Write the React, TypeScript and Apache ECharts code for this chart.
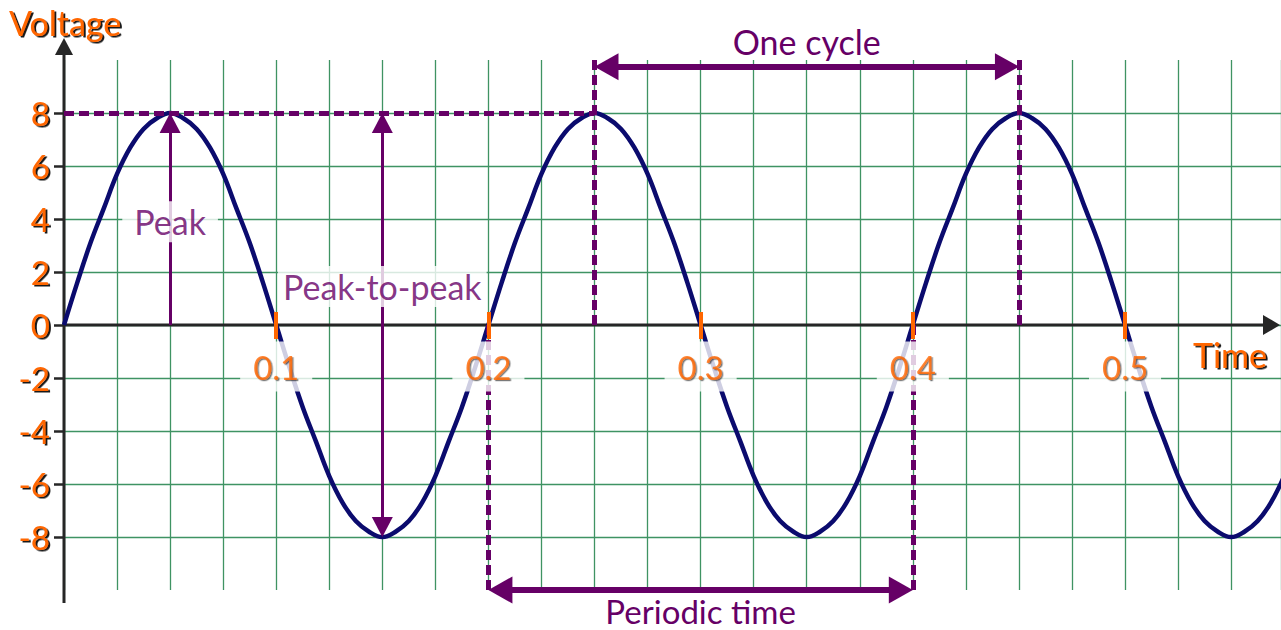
import React, { useEffect, useRef } from "react";
import * as echarts from "echarts";

// ---- data ----
const TIMES = [
  0, 0.00625, 0.0125, 0.01875, 0.025, 0.03125, 0.0375, 0.04375,
  0.05, 0.05625, 0.0625, 0.06875, 0.075, 0.08125, 0.0875, 0.09375,
  0.1, 0.10625, 0.1125, 0.11875, 0.125, 0.13125, 0.1375, 0.14375,
  0.15, 0.15625, 0.1625, 0.16875, 0.175, 0.18125, 0.1875, 0.19375,
  0.2, 0.20625, 0.2125, 0.21875, 0.225, 0.23125, 0.2375, 0.24375,
  0.25, 0.25625, 0.2625, 0.26875, 0.275, 0.28125, 0.2875, 0.29375,
  0.3, 0.30625, 0.3125, 0.31875, 0.325, 0.33125, 0.3375, 0.34375,
  0.35, 0.35625, 0.3625, 0.36875, 0.375, 0.38125, 0.3875, 0.39375,
  0.4, 0.40625, 0.4125, 0.41875, 0.425, 0.43125, 0.4375, 0.44375,
  0.45, 0.45625, 0.4625, 0.46875, 0.475, 0.48125, 0.4875, 0.49375,
  0.5, 0.50625, 0.5125, 0.51875, 0.525, 0.53125, 0.5375, 0.54375,
  0.55, 0.55625, 0.5625, 0.56875, 0.575,
];
const VOLTAGES = [
  0, 1.6, 3.1, 4.4, 5.7, 6.7, 7.4, 7.8,
  8, 7.8, 7.4, 6.7, 5.7, 4.4, 3.1, 1.6,
  0, -1.6, -3.1, -4.4, -5.7, -6.7, -7.4, -7.8,
  -8, -7.8, -7.4, -6.7, -5.7, -4.4, -3.1, -1.6,
  0, 1.6, 3.1, 4.4, 5.7, 6.7, 7.4, 7.8,
  8, 7.8, 7.4, 6.7, 5.7, 4.4, 3.1, 1.6,
  0, -1.6, -3.1, -4.4, -5.7, -6.7, -7.4, -7.8,
  -8, -7.8, -7.4, -6.7, -5.7, -4.4, -3.1, -1.6,
  0, 1.6, 3.1, 4.4, 5.7, 6.7, 7.4, 7.8,
  8, 7.8, 7.4, 6.7, 5.7, 4.4, 3.1, 1.6,
  0, -1.6, -3.1, -4.4, -5.7, -6.7, -7.4, -7.8,
  -8, -7.8, -7.4, -6.7, -5.7,
];
const X_TICKS = [0.1, 0.2, 0.3, 0.4, 0.5];
const Y_TICKS = [-8, -6, -4, -2, 0, 2, 4, 6, 8];

const X_MIN = 0;
const X_MAX = 0.5735;
const Y_MIN = -10;
const Y_MAX = 10;
const GRID_STEP_X = 0.025;
const GRID_STEP_Y = 2;

// annotation values
const PEAK = 8;
const TROUGH = -8;
const PEAK_TIME = 0.05;
const P2P_TIME = 0.15;
const CYCLE = [0.25, 0.45];
const PERIOD = [0.2, 0.4];
const CYCLE_ARROW_V = 9.75;
const PERIOD_ARROW_V = -10;
const PEAK_LABEL_V = 3.9;
const P2P_LABEL_V = 1.45;

// ---- styles ----
const FONT = "Lato, 'Open Sans', 'DejaVu Sans', sans-serif";
const ORANGE = "#ff6600";
const PURPLE = "#660066";
const NAVY = "#0b0b6e";
const GRID_C = "#3f9363";
const AXIS_C = "#262626";

const shadowText = {
  textShadowColor: "rgba(0,0,0,0.9)",
  textShadowBlur: 1.5,
  textShadowOffsetX: 2,
  textShadowOffsetY: 1.5,
};

function buildSeries(kx: number, ky: number) {
  // kx, ky: pixels per data unit
  const dashed = { color: PURPLE, width: 5, type: [10, 5] as any, opacity: 1 };
  const thick = { color: PURPLE, width: 6, type: "solid" as const, opacity: 1 };
  const thin = { color: PURPLE, width: 3, type: "solid" as const, opacity: 1 };
  const BIG = [27, 24];
  const SMALL = [21, 20];
  const insX = (len: number) => len / 2 / kx;
  const insY = (len: number) => len / 2 / ky;
  const noLabel = { show: false };
  const tri = (size: number[]) => ({ symbol: "triangle", symbolSize: size });
  const none = { symbol: "none" };

  const lines: any[] = [
    // dashed guides
    [{ coord: [X_MIN, PEAK], lineStyle: dashed, label: noLabel, ...none }, { coord: [CYCLE[0], PEAK], ...none }],
    [{ coord: [CYCLE[0], Y_MAX], lineStyle: dashed, label: noLabel, ...none }, { coord: [CYCLE[0], 0], ...none }],
    [{ coord: [CYCLE[1], Y_MAX], lineStyle: dashed, label: noLabel, ...none }, { coord: [CYCLE[1], 0], ...none }],
    [{ coord: [PERIOD[0], 0], lineStyle: dashed, label: noLabel, ...none }, { coord: [PERIOD[0], Y_MIN], ...none }],
    [{ coord: [PERIOD[1], 0], lineStyle: dashed, label: noLabel, ...none }, { coord: [PERIOD[1], Y_MIN], ...none }],
    // Peak arrow
    [{ coord: [PEAK_TIME, 0], lineStyle: thin, label: noLabel, ...none }, { coord: [PEAK_TIME, PEAK - insY(SMALL[1])], ...tri(SMALL) }],
    // Peak-to-peak arrow
    [
      { coord: [P2P_TIME, PEAK - insY(SMALL[1])], lineStyle: thin, label: noLabel, ...tri(SMALL) },
      { coord: [P2P_TIME, TROUGH + insY(SMALL[1])], ...tri(SMALL) },
    ],
    // One cycle arrow
    [
      {
        coord: [CYCLE[0] + insX(BIG[1]), CYCLE_ARROW_V],
        lineStyle: thick,
        ...tri(BIG),
        label: {
          show: true,
          formatter: "One cycle",
          position: "insideMiddleTop",
          distance: 8,
          color: PURPLE,
          fontSize: 34,
          fontFamily: FONT,
        },
      },
      { coord: [CYCLE[1] - insX(BIG[1]), CYCLE_ARROW_V], ...tri(BIG) },
    ],
    // Periodic time arrow
    [
      {
        coord: [PERIOD[0] + insX(BIG[1]), PERIOD_ARROW_V],
        lineStyle: thick,
        ...tri(BIG),
        label: {
          show: true,
          formatter: "Periodic time",
          position: "insideMiddleBottom",
          distance: 7,
          color: PURPLE,
          fontSize: 33,
          lineHeight: 28,
          fontFamily: FONT,
        },
      },
      { coord: [PERIOD[1] - insX(BIG[1]), PERIOD_ARROW_V], ...tri(BIG) },
    ],
  ];

  return [
    {
      name: "Voltage",
      type: "line",
      data: TIMES.map((t, i) => [t, VOLTAGES[i]]),
      smooth: 0.4,
      showSymbol: false,
      symbol: "none",
      lineStyle: { color: NAVY, width: 4.5 },
      z: 2,
      silent: true,
    },
    {
      name: "guides",
      type: "line",
      data: [],
      silent: true,
      markLine: {
        silent: true,
        animation: false,
        z: 5,
        symbol: ["none", "none"],
        label: { show: false },
        emphasis: { disabled: true },
        data: lines,
      },
    },
    {
      name: "notes",
      type: "scatter",
      silent: true,
      z: 8,
      symbolSize: 1,
      itemStyle: { color: "rgba(0,0,0,0)" },
      label: {
        show: true,
        position: "inside",
        color: PURPLE,
        fontSize: 34,
        fontFamily: FONT,
        backgroundColor: "#ffffff",
      },
      data: [
        { value: [PEAK_TIME, PEAK_LABEL_V], label: { formatter: "Peak", padding: [4, 12, 3, 12] } },
        { value: [P2P_TIME, P2P_LABEL_V], label: { formatter: "Peak-to-peak", padding: [4, 5, 3, 5] } },
      ],
    },
    {
      name: "timeLabels",
      type: "scatter",
      silent: true,
      z: 10,
      symbolSize: 1,
      itemStyle: { color: "rgba(0,0,0,0)" },
      label: {
        show: true,
        position: "bottom",
        distance: 16,
        color: ORANGE,
        fontSize: 33,
        fontFamily: FONT,
        backgroundColor: "#ffffff",
        padding: [9, 13, 8, 13],
        textShadowColor: "rgba(0,0,0,0.65)",
        textShadowBlur: 1.5,
        textShadowOffsetX: 1.4,
        textShadowOffsetY: 1.2,
        formatter: (p: any) => Number(p.value[0]).toFixed(1),
      },
      data: X_TICKS.map((t) => [t, 0]),
    },
  ];
}

function baseOption(): any {
  const xCommon = {
    type: "value",
    min: X_MIN,
    max: X_MAX,
    position: "bottom",
    splitLine: { show: false },
  };
  const titleStyle = { color: ORANGE, fontSize: 34, fontWeight: "normal", fontFamily: FONT, ...shadowText };
  return {
    animation: false,
    backgroundColor: "#ffffff",
    title: [
      { text: "Voltage", left: 9, top: 5, padding: 0, textStyle: titleStyle },
      { text: "Time", right: 14, top: 337, padding: 0, textStyle: titleStyle },
    ],
    grid: { left: 64, right: 0, top: 60, bottom: 40, containLabel: false, outerBoundsMode: "none" },
    xAxis: [
      {
        ...xCommon,
        interval: GRID_STEP_X,
        z: 0,
        axisLine: { show: false, onZero: true, onZeroAxisIndex: 0 },
        axisTick: { show: false },
        axisLabel: { show: false },
        splitLine: { show: true, lineStyle: { color: GRID_C, width: 1.3 } },
      },
      {
        ...xCommon,
        z: 10,
        axisLine: { show: false, onZero: true, onZeroAxisIndex: 0 },
        axisTick: { show: true, customValues: X_TICKS, length: 14, lineStyle: { color: ORANGE, width: 4 } },
        axisLabel: { show: false },
      },
      {
        ...xCommon,
        z: 10,
        axisLine: { show: false, onZero: true, onZeroAxisIndex: 0 },
        axisTick: { show: true, inside: true, customValues: X_TICKS, length: 13, lineStyle: { color: ORANGE, width: 4 } },
        axisLabel: { show: false },
      },
    ],
    yAxis: {
      type: "value",
      min: Y_MIN,
      max: Y_MAX,
      interval: GRID_STEP_Y,
      axisLine: { show: false, onZero: false },
      axisTick: { show: true, customValues: Y_TICKS, length: 10, lineStyle: { color: AXIS_C, width: 2.5 } },
      axisLabel: {
        show: true,
        customValues: Y_TICKS,
        margin: 14,
        color: ORANGE,
        fontSize: 33,
        fontFamily: FONT,
        ...shadowText,
      },
      splitLine: { show: true, lineStyle: { color: GRID_C, width: 1.3 } },
    },
    series: buildSeries(2122, 26.5),
  };
}

export default function App() {
  const ref = useRef<HTMLDivElement>(null);
  useEffect(() => {
    if (!ref.current) return;
    const chart = echarts.init(ref.current, undefined, { renderer: "svg" });
    chart.setOption(baseOption());

    const finder = { xAxisIndex: 0, yAxisIndex: 0 };
    const o = chart.convertToPixel(finder, [0, 0]) as number[];
    const yb = chart.convertToPixel(finder, [0, Y_MIN]) as number[];
    const yt = chart.convertToPixel(finder, [0, Y_MAX]) as number[];
    const xr = chart.convertToPixel(finder, [X_MAX, 0]) as number[];
    const kx = (xr[0] - o[0]) / (X_MAX - X_MIN);
    const ky = (yb[1] - yt[1]) / (Y_MAX - Y_MIN);

    const AR_LEN = 17;
    const AR_HALF = 10;
    const yTip = yt[1] - 22;
    const xTip = xr[0] - 1;
    const axisStyle = { stroke: AXIS_C, lineWidth: 3 };

    chart.setOption({
      series: buildSeries(kx, ky),
      graphic: [
        {
          type: "line",
          z: 1,
          silent: true,
          shape: { x1: o[0], y1: yb[1] + 13, x2: o[0], y2: yTip + AR_LEN - 1 },
          style: axisStyle,
        },
        {
          type: "polygon",
          z: 1,
          silent: true,
          shape: { points: [[o[0] - AR_HALF + 1, yTip + AR_LEN], [o[0] + AR_HALF - 1, yTip + AR_LEN], [o[0], yTip]] },
          style: { fill: AXIS_C },
        },
        {
          type: "line",
          z: 1,
          silent: true,
          shape: { x1: o[0], y1: o[1], x2: xTip - AR_LEN + 1, y2: o[1] },
          style: axisStyle,
        },
        {
          type: "polygon",
          z: 1,
          silent: true,
          shape: { points: [[xTip - AR_LEN, o[1] - AR_HALF], [xTip - AR_LEN, o[1] + AR_HALF], [xTip, o[1]]] },
          style: { fill: AXIS_C },
        },
      ],
    });

    return () => chart.dispose();
  }, []);

  return (
    <div
      ref={ref}
      style={{ position: "fixed", left: 0, top: 0, width: 1281, height: 630, background: "#fff" }}
    />
  );
}
